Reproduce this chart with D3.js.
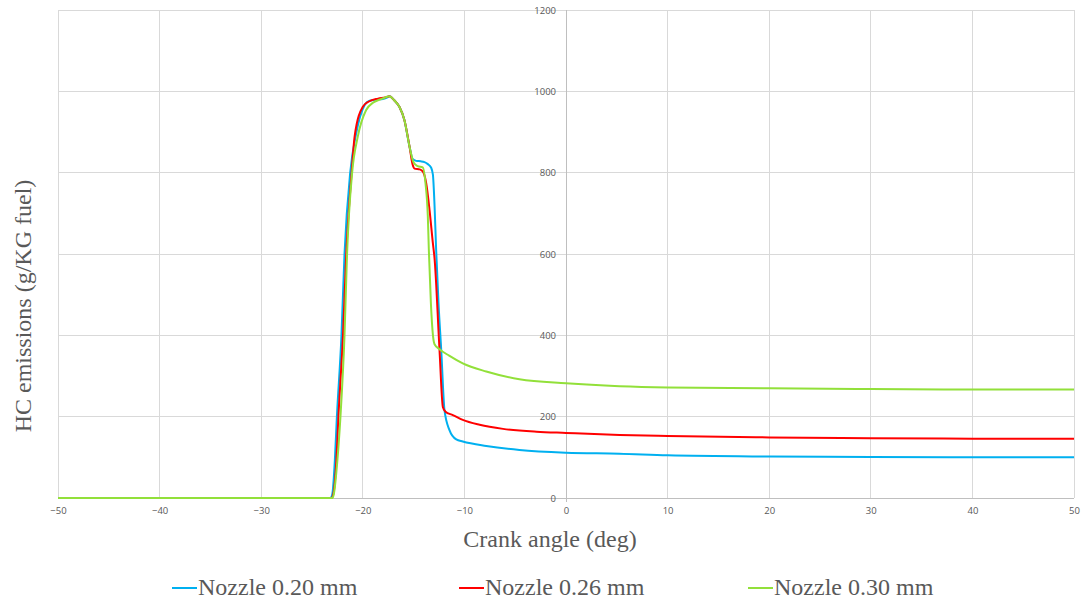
<!DOCTYPE html>
<html>
<head>
<meta charset="utf-8">
<script src="https://cdn.jsdelivr.net/npm/d3@7"></script>
<style>
  html, body { margin: 0; padding: 0; background: #fff; }
  svg { display: block; }
</style>
</head>
<body>
<svg id="chart" width="1083" height="600"></svg>
<script>
// ---- Data ----
const seriesNames = ["Nozzle 0.20 mm", "Nozzle 0.26 mm", "Nozzle 0.30 mm"];
const seriesColors = ["#00b0f0", "#ff0000", "#92e03a"];

const angle020 = [-50,-23.2,-23.0,-22.75,-22.55,-22.1,-21.8,-21.24,-20.65,-19.83,-19.34,-18.5,-18.03,-17.6,-17.37,-16.9,-16.4,-15.9,-15.4,-15.1,-14.75,-14.3,-13.93,-13.6,-13.27,-13.1,-12.94,-12.78,-12.55,-12.28,-11.96,-11.47,-10.8,-10.16,-7.85,-4.58,0,5.27,10,20,30,40,50];
const hc020    = [0,0,10,93,200,400,600,800,897,966,977,980,981,985,988,978,962,929,864,834,829,828,826,821,812,795,720,610,480,364,216,167,144,139,128,118,111.5,109,105,102,101,100,100];

const angle026 = [-50,-23.1,-22.9,-22.6,-22.4,-21.95,-21.63,-21.1,-20.8,-20.0,-19.4,-18.5,-17.8,-17.37,-16.9,-16.4,-15.9,-15.4,-15.1,-14.9,-14.4,-14.1,-13.76,-13.43,-13.1,-12.94,-12.45,-12.12,-11.86,-11.14,-10.16,-8.5,-6.2,-2.9,0,5.27,10,20,30,40,50];
const hc026    = [0,0,10,93,200,400,600,800,890,962,975,982,985,988,978,962,929,864,820,810,808,803,774,708,626,590,364,224,212,204,192,180,170,163,160,155,152.5,149,147,146,146];

const angle030 = [-50,-23.0,-22.85,-22.5,-22.2,-21.8,-21.55,-21.05,-20.5,-19.67,-19.0,-18.3,-17.8,-17.37,-16.9,-16.4,-15.9,-15.4,-15.0,-14.6,-14.1,-13.83,-13.6,-13.5,-13.3,-13.1,-12.94,-12.45,-11.5,-10.16,-7.85,-4.58,0,5.27,10,20,30,40,50];
const hc030    = [0,0,10,93,200,400,600,800,888,954,972,980,985,988,978,962,929,864,825,816,813,774,692,610,480,401,378,366,350,331,311,292,282,275,272,270,268,267,267];

const xTicks = [-50,-40,-30,-20,-10,0,10,20,30,40,50];
const yTicks = [0,200,400,600,800,1000,1200];

const xTitle = "Crank angle (deg)";
const yTitle = "HC emissions (g/KG fuel)";

// ---- Layout ----
const svg = d3.select("#chart");
const mLeft = 58, mRight = 1074, mTop = 10, mBottom = 498;

const x = d3.scaleLinear().domain([-50, 50]).range([mLeft, mRight]);
const y = d3.scaleLinear().domain([0, 1200]).range([mBottom, mTop]);

const tickFont = "'Open Sans', 'Liberation Sans', Arial, sans-serif";
const titleFont = "'Liberation Serif', 'Times New Roman', serif";
const textColor = "#595959";

// Grid
const grid = svg.append("g");
grid.selectAll("line.v").data(xTicks).enter().append("line")
  .attr("x1", d => x(d)).attr("x2", d => x(d))
  .attr("y1", mTop).attr("y2", mBottom)
  .attr("stroke", "#d9d9d9").attr("stroke-width", 1)
  .attr("shape-rendering", "crispEdges");
grid.selectAll("line.h").data(yTicks).enter().append("line")
  .attr("x1", mLeft).attr("x2", mRight)
  .attr("y1", d => y(d)).attr("y2", d => y(d))
  .attr("stroke", "#d9d9d9").attr("stroke-width", 1)
  .attr("shape-rendering", "crispEdges");

// Axis lines (y axis at x=0, x axis at y=0)
svg.append("line")
  .attr("x1", x(0)).attr("x2", x(0)).attr("y1", mTop).attr("y2", mBottom + 4)
  .attr("stroke", "#bfbfbf").attr("stroke-width", 1).attr("shape-rendering", "crispEdges");
svg.append("line")
  .attr("x1", mLeft).attr("x2", mRight).attr("y1", y(0)).attr("y2", y(0))
  .attr("stroke", "#bfbfbf").attr("stroke-width", 1).attr("shape-rendering", "crispEdges");

// Y tick labels (left of the x=0 axis)
const yAxis = d3.axisLeft(y).tickValues(yTicks).tickSize(0).tickPadding(10).tickFormat(d3.format("d"));
const gy = svg.append("g").attr("transform", `translate(${x(0)},0)`).call(yAxis);
gy.select(".domain").remove();
gy.selectAll("text").attr("fill", textColor).style("font-family", tickFont).style("font-size", "9.5px");

// X tick labels
const xAxis = d3.axisBottom(x).tickValues(xTicks).tickSize(0).tickPadding(9).tickFormat(d3.format("d"));
const gx = svg.append("g").attr("transform", `translate(0,${y(0)})`).call(xAxis);
gx.select(".domain").remove();
gx.selectAll("text").attr("fill", textColor).style("font-family", tickFont).style("font-size", "9.5px");

// Lines
const series = [
  { xs: angle020, ys: hc020 },
  { xs: angle026, ys: hc026 },
  { xs: angle030, ys: hc030 }
];
const line = d3.line().x(d => x(d[0])).y(d => y(d[1])).curve(d3.curveMonotoneX);
series.forEach((s, i) => {
  const pts = s.xs.map((a, j) => [a, s.ys[j]]);
  svg.append("path").datum(pts)
    .attr("fill", "none")
    .attr("stroke", seriesColors[i])
    .attr("stroke-width", 2)
    .attr("stroke-linejoin", "round")
    .attr("d", line);
});

// Axis titles
svg.append("text")
  .attr("x", 550).attr("y", 547)
  .attr("text-anchor", "middle")
  .attr("fill", textColor)
  .style("font-family", titleFont).style("font-size", "24px")
  .text(xTitle);
svg.append("text")
  .attr("transform", "translate(31,306) rotate(-90)")
  .attr("text-anchor", "middle")
  .attr("fill", textColor)
  .style("font-family", titleFont).style("font-size", "24px")
  .text(yTitle);

// Legend
const legendX = [172, 459, 748];
const legendY = 588;
seriesNames.forEach((name, i) => {
  const g = svg.append("g").attr("transform", `translate(${legendX[i]},${legendY})`);
  g.append("line").attr("x1", 0).attr("x2", 25).attr("y1", 0).attr("y2", 0)
    .attr("stroke", seriesColors[i]).attr("stroke-width", 2);
  g.append("text").attr("x", 26).attr("y", 7)
    .attr("fill", textColor)
    .style("font-family", titleFont).style("font-size", "24px")
    .text(name);
});
</script>
</body>
</html>
